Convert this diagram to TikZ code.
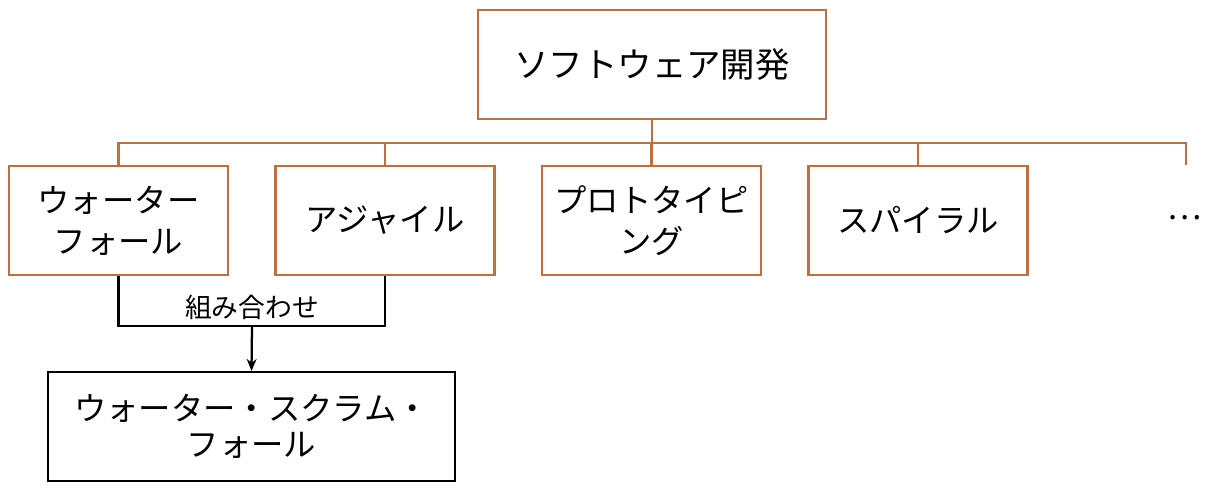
\documentclass[tikz,border=0pt]{standalone}
\usepackage{fontspec}
\newfontfamily\jpfont{Noto Sans CJK JP}
\usetikzlibrary{arrows.meta,positioning}
\definecolor{myorange}{RGB}{186,112,66}

\begin{document}
\begin{tikzpicture}[x=0.025cm,y=-0.025cm,
  topbox/.style={rectangle,draw=myorange,line width=1.5pt,minimum width=8.7cm,
               minimum height=2.725cm,font=\jpfont\fontsize{24.5}{30}\selectfont},
  kbox/.style={rectangle,draw=myorange,line width=1.5pt,minimum width=5.475cm,
               minimum height=2.725cm,align=center,inner sep=2pt,
               font=\jpfont\fontsize{23}{29}\selectfont},
  resbox/.style={rectangle,draw,line width=1.5pt,minimum width=10.175cm,
               minimum height=2.725cm,align=center,
               font=\jpfont\fontsize{23}{26}\selectfont},
  tree/.style={myorange,line width=1.5pt},
  mixline/.style={black,line width=1.6pt}]
\useasboundingbox (0,0) rectangle (1214,490);
\node[topbox] (sw) at (652,64.5) {ソフトウェア開発};
\node[kbox] (wf) at (118.5,220.5) {ウォーター\\フォール};
\node[kbox] (ag) at (385,220.5) {アジャイル};
\node[kbox] (pt) at (651.5,220.5) {プロトタイピ\\ング};
\node[kbox] (sp) at (918,220.5) {スパイラル};
\node[font=\jpfont\fontsize{23}{29}\selectfont] (more) at (1185,218) {…};
\coordinate (bus) at (652,143);
\coordinate (tail) at (1186,165);
\draw[tree] (sw.south) -- (sw.south |- bus);
\draw[tree] (wf.north) -- (wf.north |- bus) -- (tail |- bus) -- (tail);
\foreach \k in {ag,pt,sp}
  \draw[tree] (\k.north) -- (\k.north |- bus);
% combination of the two methods
\node[resbox] (ws) at (251.5,426.5) {ウォーター・スクラム・\\フォール};
\coordinate (mix) at (252,326);
\draw[mixline] (wf.south) -- (wf.south |- mix) -- (ag.south |- mix) -- (ag.south);
\node[font=\jpfont\fontsize{19}{23}\selectfont,above=1pt of mix] (mixlab) {組み合わせ};
\draw[mixline,-{Stealth[length=8.5pt,width=7pt]}] (mix) -- (ws.north);
\end{tikzpicture}
\end{document}
